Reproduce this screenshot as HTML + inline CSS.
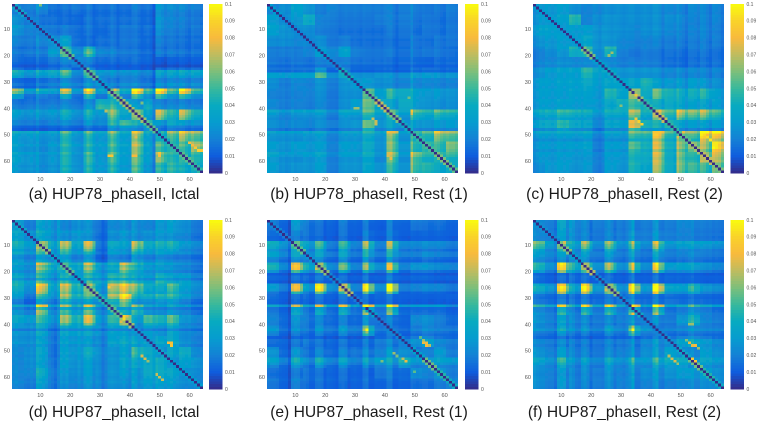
<!DOCTYPE html>
<html lang="en">
<head>
<meta charset="utf-8">
<title>Correlation matrices</title>
<style>
html,body{margin:0;padding:0;background:#fff;width:760px;height:423px;overflow:hidden}
svg{display:block}
text{font-family:"Liberation Sans",sans-serif}
</style>
</head>
<body>
<svg id="chart" xmlns="http://www.w3.org/2000/svg" width="760" height="423" viewBox="0 0 760 423">
<defs><filter id="soft" x="-2%" y="-2%" width="104%" height="104%"><feGaussianBlur stdDeviation="0.3"/></filter></defs>
</svg>
<script>
// Tick labels
const axisTicks = [10, 20, 30, 40, 50, 60];
const colorbarTicks = [0, 0.01, 0.02, 0.03, 0.04, 0.05, 0.06, 0.07, 0.08, 0.09, 0.1];
const captions = ["(a) HUP78_phaseII, Ictal", "(b) HUP78_phaseII, Rest (1)", "(c) HUP78_phaseII, Rest (2)", "(d) HUP87_phaseII, Ictal", "(e) HUP87_phaseII, Rest (1)", "(f) HUP87_phaseII, Rest (2)"];

// Block values: 16x16 blocks of 4x4 channels, in thousandths of the colour scale
const blocksA = [
[24,24,28,20,20,22,20,20,20,20,22,20,30,28,26,24],
[30,24,22,20,18,18,20,20,20,20,20,18,30,26,24,22],
[32,26,24,22,22,20,20,18,20,22,20,20,28,24,22,22],
[26,24,28,30,36,20,18,20,20,22,20,18,24,22,20,20],
[22,22,24,34,55,30,48,26,24,22,20,18,22,22,20,20],
[18,16,18,22,26,30,24,18,18,18,18,16,12,14,14,14],
[40,30,36,38,48,26,50,30,28,28,26,24,34,36,36,36],
[20,16,22,24,30,24,30,30,24,28,26,22,28,30,28,28],
[50,28,36,30,56,28,60,30,55,34,68,42,68,44,66,42],
[22,22,24,24,26,22,28,48,46,40,32,40,26,26,26,24],
[34,30,32,32,40,30,40,32,55,38,58,36,62,46,62,44],
[24,22,22,24,26,22,28,26,44,50,40,50,30,38,32,30],
[38,36,34,34,48,34,46,36,52,38,62,38,45,56,66,58],
[36,32,30,34,46,34,44,36,50,38,62,38,52,50,52,66],
[38,34,32,34,46,32,48,34,52,36,56,36,60,48,48,50],
[34,32,30,32,44,32,44,34,46,34,52,32,48,50,44,44]];
const blocksB = [
[26,30,38,32,24,26,24,24,24,24,24,24,24,22,22,24],
[36,30,34,44,26,24,22,22,22,24,24,24,22,22,20,22],
[38,32,30,30,24,22,20,20,20,20,22,22,20,22,20,22],
[30,30,28,28,30,22,24,20,20,20,20,20,22,20,22,22],
[24,24,24,26,36,28,38,24,22,22,22,20,22,22,22,20],
[22,20,22,20,24,24,24,20,20,20,18,18,18,16,18,18],
[30,28,30,30,46,24,34,24,24,26,24,24,28,28,26,26],
[30,24,28,26,32,24,32,34,34,30,28,26,28,28,26,26],
[26,24,26,26,30,22,30,30,58,38,50,44,38,34,34,32],
[28,24,26,24,28,22,30,36,60,42,38,44,36,32,30,30],
[34,28,32,32,34,24,36,34,50,36,50,34,50,42,48,44],
[30,26,28,26,30,24,30,32,58,32,38,30,34,32,34,34],
[34,32,32,34,36,26,34,34,44,34,62,32,48,50,64,58],
[36,32,36,34,36,26,36,34,44,32,60,34,50,52,52,62],
[38,32,32,34,38,26,34,34,42,30,62,32,60,48,50,50],
[36,30,32,32,36,24,32,32,40,32,50,32,54,50,42,44]];
const blocksC = [
[32,34,36,30,26,28,30,30,30,30,30,28,26,28,26,26],
[34,34,38,50,26,30,32,30,30,30,30,30,28,26,26,26],
[38,38,36,36,36,32,32,30,28,30,30,28,26,26,26,24],
[32,34,36,34,40,32,32,28,26,26,26,24,24,24,24,24],
[26,30,34,46,50,30,48,26,22,24,22,22,20,22,22,20],
[26,28,30,28,28,28,28,24,24,24,22,20,18,20,20,20],
[32,36,38,38,50,40,36,32,32,32,30,28,28,28,26,26],
[36,36,38,38,42,36,40,38,40,48,36,34,34,36,32,30],
[36,36,36,38,38,34,50,40,66,44,58,48,44,46,48,36],
[36,36,38,36,36,34,42,46,54,46,44,44,40,38,38,36],
[40,42,48,44,42,32,42,40,62,42,68,50,64,58,60,50],
[38,40,48,40,38,26,38,36,70,44,44,46,36,34,34,34],
[36,36,38,36,38,26,36,34,54,50,78,50,68,56,82,80],
[34,34,36,36,38,24,36,34,56,46,70,46,62,62,64,84],
[34,34,36,34,34,26,36,34,48,44,70,44,60,50,66,70],
[30,34,36,32,34,24,36,32,48,40,66,44,60,54,52,60]];
const blocksD = [
[34,24,36,36,26,30,30,22,28,28,30,26,34,36,30,24],
[40,30,40,36,30,34,30,20,30,32,30,30,34,32,28,22],
[44,34,62,44,62,38,64,22,40,34,60,40,44,44,32,28],
[40,30,44,34,44,30,40,20,34,28,40,30,36,30,28,24],
[34,28,58,46,44,38,60,36,40,60,44,32,34,30,26,22],
[42,32,48,38,46,36,48,40,50,50,42,34,46,38,36,28],
[44,30,70,44,66,46,62,36,66,72,58,40,42,52,36,30],
[30,18,42,32,56,40,46,36,58,74,40,38,42,44,32,24],
[34,26,62,34,54,38,58,32,40,44,50,32,30,34,28,22],
[40,34,48,36,62,46,68,36,50,70,36,52,46,54,32,28],
[32,30,38,26,38,36,38,32,36,34,28,34,30,38,28,26],
[32,30,36,26,36,34,34,30,38,40,38,38,40,42,30,26],
[28,30,38,24,36,34,42,32,32,36,50,42,32,40,44,30],
[28,30,36,26,36,32,36,30,32,38,40,42,44,32,38,34],
[28,28,42,28,32,30,34,30,32,34,34,42,44,40,30,30],
[28,24,36,26,30,28,32,30,32,30,34,36,38,36,30,30]];
const blocksE = [
[22,16,32,22,20,16,22,16,20,14,22,16,22,20,20,16],
[18,14,24,20,18,14,20,14,22,14,22,14,16,16,16,14],
[42,30,50,34,48,22,46,24,54,24,56,26,26,28,26,22],
[34,24,34,28,34,20,34,20,36,20,36,22,22,26,22,20],
[44,26,68,40,64,26,52,24,52,28,62,24,30,30,26,24],
[16,14,18,16,20,14,18,14,18,14,20,14,16,16,14,14],
[32,22,66,32,76,28,66,24,70,28,74,22,24,26,24,20],
[18,14,18,16,20,14,20,16,18,16,18,14,14,14,14,14],
[28,20,46,26,48,24,50,26,66,28,64,22,24,24,24,18],
[26,18,30,22,26,18,24,18,28,20,24,16,28,30,24,18],
[30,18,26,20,28,20,30,22,50,20,24,16,22,26,22,20],
[18,16,20,20,20,16,20,16,20,22,24,24,30,36,26,22],
[32,18,30,20,26,18,26,22,26,26,32,30,24,26,34,24],
[36,24,40,26,40,24,36,24,34,34,36,44,32,32,36,32],
[20,16,22,20,20,16,20,16,18,22,22,18,30,26,32,24],
[22,16,24,18,20,16,18,16,18,16,18,16,20,20,24,26]];
const blocksF = [
[28,24,38,30,26,24,26,24,28,24,28,24,28,26,24,22],
[28,24,34,28,26,22,26,24,30,24,30,24,26,24,22,20],
[52,32,58,36,54,26,52,28,46,26,56,30,34,34,32,28],
[36,28,34,30,34,24,34,24,32,22,36,24,26,28,24,22],
[44,28,72,42,58,28,56,28,54,26,66,32,34,34,28,24],
[18,14,18,18,18,14,18,14,18,14,18,16,16,16,14,14],
[40,30,72,36,74,30,64,28,72,30,78,36,34,44,30,26],
[22,18,22,20,22,18,22,20,24,18,22,20,18,20,18,16],
[36,28,54,30,54,28,54,30,64,26,64,26,30,38,30,24],
[30,24,34,26,26,22,26,24,28,24,28,22,32,44,26,22],
[28,24,36,26,28,22,32,24,50,28,26,22,24,28,24,22],
[26,22,26,22,22,20,24,22,24,26,30,28,36,40,32,26],
[32,26,34,26,26,22,28,26,28,30,34,38,30,28,36,30],
[38,30,46,30,34,26,38,30,40,32,44,42,42,32,38,32],
[30,26,32,26,28,24,30,26,30,30,32,32,36,34,36,30],
[30,24,32,26,26,24,28,26,28,26,28,26,28,28,30,28]];

// Per-channel stripe strength, in percent
const rowGainA = [105,110,95,90,95,105,100,95,110,100,95,100,95,105,100,95,90,105,115,95,110,105,95,70,50,125,110,90,85,90,115,90,145,120,70,65,90,95,110,115,115,110,100,90,110,115,70,55,125,100,95,90,100,110,95,95,110,95,100,100,105,95,105,95];
const colGainA = [110,105,95,90,95,100,105,95,120,95,90,95,100,105,100,90,100,115,110,95,105,100,95,85,100,125,110,85,95,105,100,95,100,120,105,85,100,105,100,95,115,120,100,85,100,110,95,60,115,115,100,85,105,110,100,90,115,110,95,85,110,100,100,90];
const rowGainB = [100,105,100,95,105,100,95,100,105,100,95,100,105,95,100,100,95,105,100,100,105,100,110,85,70,60,130,135,100,105,95,100,105,100,100,95,105,100,100,95,130,105,95,85,105,105,105,75,125,100,95,90,105,100,100,95,115,105,90,90,105,100,100,95];
const colGainB = [105,100,100,95,100,105,95,100,105,95,100,100,105,100,95,100,100,105,100,95,105,100,100,95,95,100,105,100,100,105,100,95,105,100,100,95,100,100,95,105,110,115,95,80,100,100,100,100,130,100,95,90,105,100,100,95,110,105,95,90,105,100,100,95];
const rowGainC = [105,100,100,95,105,100,100,95,100,105,95,100,105,100,95,100,110,100,95,95,95,100,110,95,105,105,95,95,100,105,100,95,105,100,100,95,105,100,95,100,120,105,95,80,110,105,110,70,125,100,95,80,105,100,105,90,105,100,95,100,105,100,100,95];
const colGainC = [85,95,105,100,105,100,95,100,105,100,95,100,105,100,95,100,95,105,100,100,105,100,90,105,105,100,95,100,105,100,95,100,105,105,95,95,100,105,100,95,110,110,100,80,105,100,100,90,120,105,95,80,105,105,100,90,115,110,95,80,110,105,100,85];
const rowGainD = [105,100,95,100,110,100,90,100,115,110,100,85,115,75,70,90,125,100,110,90,95,105,75,115,115,105,100,90,130,110,80,70,135,75,100,95,110,105,105,85,110,70,110,105,95,100,110,90,100,100,105,95,105,100,95,100,100,105,100,95,100,105,95,90];
const colGainD = [100,105,95,95,100,95,105,95,120,110,100,90,100,85,70,100,110,100,110,90,100,95,110,95,105,115,105,80,105,95,70,85,100,105,100,95,105,115,100,85,120,105,85,95,105,100,105,90,110,100,100,90,105,110,95,90,105,100,95,100,100,95,90,85];
const rowGainE = [110,100,95,95,105,105,90,95,115,110,100,75,120,120,85,70,105,115,110,70,85,115,110,85,110,115,110,65,110,105,95,90,165,70,75,85,100,105,100,95,105,125,95,80,75,115,110,100,90,105,105,95,115,115,95,70,105,100,95,100,110,100,95,95];
const colGainE = [105,100,100,95,105,100,95,60,105,115,110,85,120,110,85,85,110,115,105,70,110,105,95,85,110,115,105,70,100,105,95,90,120,130,75,75,105,100,95,100,125,125,75,75,105,100,100,95,105,100,95,100,105,105,95,95,100,105,100,95,105,100,95,100];
const rowGainF = [105,100,100,95,100,105,95,100,125,110,100,75,105,100,85,75,120,115,110,80,90,110,105,95,105,120,115,85,100,90,105,105,160,70,75,90,100,105,115,95,105,130,90,75,70,110,115,100,95,100,105,100,115,110,95,80,105,100,95,100,105,100,100,95];
const colGainF = [110,100,95,95,105,100,100,80,105,115,110,70,125,110,85,80,110,120,100,70,105,100,100,95,105,120,100,75,105,100,90,105,105,145,75,75,100,105,100,95,115,130,80,75,105,100,100,95,105,100,95,100,105,115,90,90,105,100,95,100,100,105,100,95];

// Values beside the dark diagonal, one per 4-channel block, in thousandths
const nearDiagA = [35,22,22,28,55,22,55,30,58,65,65,55,40,48,55,48];
const nearDiagB = [30,22,22,22,30,22,42,30,55,70,60,40,48,52,60,55];
const nearDiagC = [30,30,28,30,60,34,40,34,65,48,70,48,55,65,70,60];
const nearDiagD = [35,26,62,34,55,34,60,46,55,65,28,28,35,30,30,30];
const nearDiagE = [22,18,55,26,62,22,68,18,34,18,22,22,34,58,46,38];
const nearDiagF = [26,22,60,30,68,22,62,22,38,22,22,26,38,58,46,38];

// Individually read bright cells: [row, column, thousandths]
const hotCellsA = [[1,10,60],[58,33,85],[58,34,85],[57,50,85],[58,50,80],[58,41,80],[58,42,80],[51,42,75],[41,32,70],[38,44,60],[55,62,85],[56,63,88],[56,64,85],[53,60,80],[54,61,80]];
const hotCellsB = [[41,49,85],[42,49,75],[58,41,75],[59,42,78],[49,42,78],[49,43,78],[49,44,72],[49,57,88],[49,58,85],[40,30,65],[40,31,65],[44,36,72],[45,37,72],[46,37,72],[36,48,58]];
const hotCellsC = [[49,41,85],[49,42,85],[49,43,85],[45,36,90],[46,37,90],[44,35,85],[50,58,92],[51,59,92],[52,60,95],[53,61,95],[54,62,95],[55,63,90],[35,35,82],[39,30,62],[19,27,66],[20,26,64]];
const hotCellsD = [[47,53,80],[47,54,82],[48,54,85],[52,44,75],[53,45,75],[54,46,65],[59,49,72],[60,50,72],[61,51,72],[29,37,92],[30,38,95],[26,33,85],[33,26,85],[33,11,78],[33,12,78],[37,38,90],[38,38,92]];
const hotCellsE = [[33,34,100],[33,33,95],[42,34,100],[43,34,65],[45,52,55],[46,53,65],[47,53,78],[47,54,78],[48,54,80],[48,55,70],[54,47,78],[53,46,70],[52,44,60],[51,43,65],[54,39,60],[58,50,55]];
const hotCellsF = [[42,34,100],[33,34,95],[33,35,85],[52,46,70],[53,47,75],[54,48,75],[55,49,65],[48,54,78],[47,53,78],[46,52,60],[48,55,80],[49,56,65],[40,53,65],[40,54,65],[53,54,85],[54,55,85]];

const blockSets = [blocksA, blocksB, blocksC, blocksD, blocksE, blocksF];
const rowGains = [rowGainA, rowGainB, rowGainC, rowGainD, rowGainE, rowGainF];
const colGains = [colGainA, colGainB, colGainC, colGainD, colGainE, colGainF];
const nearDiags = [nearDiagA, nearDiagB, nearDiagC, nearDiagD, nearDiagE, nearDiagF];
const hotCells = [hotCellsA, hotCellsB, hotCellsC, hotCellsD, hotCellsE, hotCellsF];

const NS = 'http://www.w3.org/2000/svg';
const chart = document.getElementById('chart');
const N = 64;
const panelW = 191, panelH = 169, barW = 13.5;
const lefts = [12, 267, 533];
const tops = [4, 220];
const barLefts = [209, 465, 730.5];
const captionMid = [114, 369, 624.5];
const captionY = [199, 417];
const parula = [[53,42,135],[15,92,221],[20,129,214],[6,156,207],[7,170,193],[55,184,157],[124,191,123],[190,188,96],[248,186,61],[249,210,42],[249,251,14]];

function colour(t){
  const c = Math.max(0, Math.min(1, t)) * (parula.length - 1);
  const i = Math.min(parula.length - 2, Math.floor(c));
  const f = c - i;
  const a = parula[i], b = parula[i + 1];
  return 'rgb(' + Math.round(a[0] + (b[0] - a[0]) * f) + ',' + Math.round(a[1] + (b[1] - a[1]) * f) + ',' + Math.round(a[2] + (b[2] - a[2]) * f) + ')';
}
function make(parent, tag, attrs){
  const el = document.createElementNS(NS, tag);
  for (const k in attrs) el.setAttribute(k, attrs[k]);
  parent.appendChild(el);
  return el;
}
function calibrate(block){
  return block * (0.70 + 0.004 * block);
}
function cellValue(p, r, c){
  if (r === c) return 0;
  if (Math.abs(r - c) === 1) return nearDiags[p][Math.min(r, c) >> 2] / 1000;
  return calibrate(blockSets[p][r >> 2][c >> 2]) * rowGains[p][r] * colGains[p][c] / 1e7;
}

for (let p = 0; p < 6; p++) {
  const x0 = lefts[p % 3], y0 = tops[p >= 3 ? 1 : 0];
  const sx = panelW / N, sy = panelH / N;
  const xScale = i => i * sx;
  const yScale = i => i * sy;

  const panel = make(chart, 'g', {});
  
  

  const clip = make(panel, 'svg', {x: x0, y: y0, width: panelW, height: panelH, viewBox: '0 0 ' + panelW + ' ' + panelH});
  const cells = make(clip, 'g', {filter: 'url(#soft)', 'shape-rendering': 'crispEdges'});
  const hot = {};
  hotCells[p].forEach(h => { hot[(h[0] - 1) + '_' + (h[1] - 1)] = h[2] / 1000; });
  for (let r = 0; r < N; r++) {
    for (let c = 0; c < N; c++) {
      const key = r + '_' + c;
      const v = key in hot ? hot[key] : cellValue(p, r, c);
      const cell = make(cells, 'rect', {x: xScale(c).toFixed(2), y: yScale(r).toFixed(2), width: (sx + 0.05).toFixed(2), height: (sy + 0.05).toFixed(2), fill: colour(v / 0.1)});
      
      
    }
  }

  axisTicks.forEach(t => {
    const ly = make(panel, 'text', {x: x0 - 2, y: y0 + yScale(t - 0.5) + 2, 'text-anchor': 'end', 'font-size': 5.6, fill: '#555'});
    
    
    ly.textContent = t;
    const lx = make(panel, 'text', {x: x0 + xScale(t - 0.5), y: y0 + panelH + 8, 'text-anchor': 'middle', 'font-size': 5.6, fill: '#555'});
    
    
    lx.textContent = t;
  });

  const bx = barLefts[p % 3];
  const barScale = v => y0 + panelH - (v / 0.1) * panelH;
  const bar = make(panel, 'g', {'shape-rendering': 'crispEdges'});
  
  
  for (let k = 0; k < N; k++) {
    const lo = 0.1 * k / N, hi = 0.1 * (k + 1) / N;
    const seg = make(bar, 'rect', {x: bx, y: barScale(hi).toFixed(2), width: barW, height: (barScale(lo) - barScale(hi) + 0.4).toFixed(2), fill: colour((k + 0.5) / N)});
    
    
  }
  colorbarTicks.forEach(t => {
    const lb = make(panel, 'text', {x: bx + barW + 2.5, y: barScale(t) + 1.8, 'font-size': 5, fill: '#555'});
    
    
    lb.textContent = t;
  });

  const cap = make(panel, 'text', {x: captionMid[p % 3], y: captionY[p >= 3 ? 1 : 0], 'text-anchor': 'middle', 'font-size': 15.6, fill: '#1a1a1a'});
  
  
  cap.textContent = captions[p];
}
</script>
</body>
</html>
